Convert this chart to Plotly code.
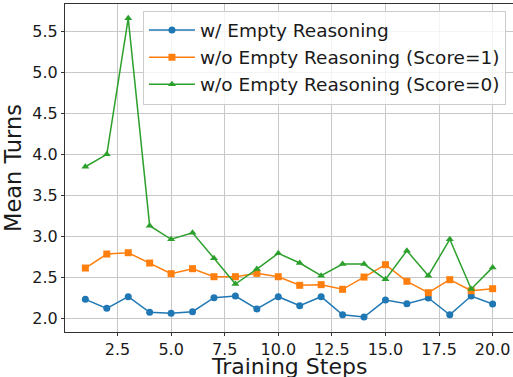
import plotly.graph_objects as go

steps = list(range(1, 21))
with_empty = [2.232, 2.122, 2.264, 2.073, 2.061, 2.081, 2.252, 2.272, 2.114, 2.264,
              2.154, 2.264, 2.044, 2.016, 2.223, 2.178, 2.248, 2.044, 2.272, 2.175]
without_empty_s1 = [2.614, 2.785, 2.801, 2.675, 2.545, 2.606, 2.508, 2.508, 2.549, 2.508,
                    2.403, 2.411, 2.354, 2.504, 2.655, 2.452, 2.313, 2.472, 2.337, 2.362]
without_empty_s0 = [3.851, 4.002, 5.663, 3.131, 2.965, 3.045, 2.733, 2.419, 2.602, 2.794,
                    2.675, 2.520, 2.663, 2.663, 2.476, 2.826, 2.520, 2.965, 2.358, 2.622]

series_names = ["w/ Empty Reasoning",
                "w/o Empty Reasoning (Score=1)",
                "w/o Empty Reasoning (Score=0)"]
x_ticks = [2.5, 5.0, 7.5, 10.0, 12.5, 15.0, 17.5, 20.0]
y_ticks = [2.0, 2.5, 3.0, 3.5, 4.0, 4.5, 5.0, 5.5]

colors = ["#1f77b4", "#ff7f0e", "#2ca02c"]
symbols = ["circle", "square", "triangle-up"]

fig = go.Figure()
for name, vals, col, sym in zip(series_names,
                                [with_empty, without_empty_s1, without_empty_s0],
                                colors, symbols):
    fig.add_trace(go.Scatter(
        x=steps, y=vals, name=name, mode="lines+markers",
        line=dict(color=col, width=1.5),
        marker=dict(symbol=sym, size=7, color=col),
    ))

axis_common = dict(
    showline=True, linecolor="#333333", linewidth=1, mirror=True,
    showgrid=True, gridcolor="#c8c8c8", gridwidth=1,
    ticks="outside", ticklen=3, tickcolor="#333333",
    tickfont=dict(size=16, color="#1a1a1a"),
    zeroline=False, automargin=False,
)

fig.update_layout(
    width=513, height=377,
    margin=dict(l=65, r=0, t=4, b=45),
    paper_bgcolor="white", plot_bgcolor="white",
    font=dict(family="DejaVu Sans", color="#1a1a1a"),
    xaxis=dict(range=[0.05, 20.95], tickvals=x_ticks,
               ticktext=[f"{v:.1f}" for v in x_ticks],
               **axis_common),
    yaxis=dict(range=[1.833, 5.838], tickvals=y_ticks,
               ticktext=[f"{v:.1f}" for v in y_ticks],
               title=dict(text="Mean Turns", font=dict(size=22.5), standoff=6),
               **axis_common),
    legend=dict(x=0.174, y=0.98, xanchor="left", yanchor="top",
                bgcolor="rgba(255,255,255,0.8)", bordercolor="#cccccc", borderwidth=1,
                font=dict(size=18.5), itemwidth=46),
    showlegend=True,
)

# x-axis title placed just under the tick labels
fig.add_annotation(text="Training Steps", xref="paper", yref="paper",
                   x=0.5, y=-0.104, xanchor="center", yanchor="middle",
                   showarrow=False, font=dict(size=22, color="#1a1a1a"))

fig.write_html("out.html")
